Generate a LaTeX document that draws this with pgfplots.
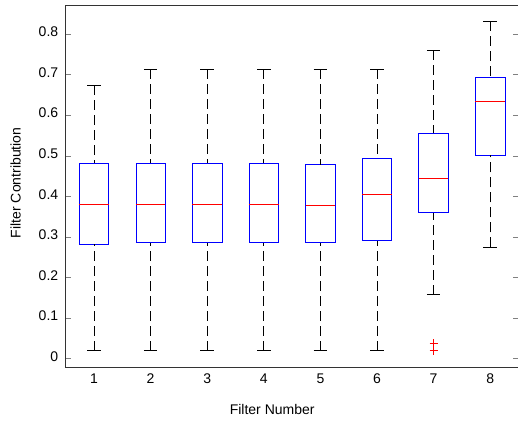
\documentclass[border=0pt]{standalone}
\usepackage{fontspec}
\setmainfont{Liberation Sans}
\usepackage{pgfplots}
\pgfplotsset{compat=1.18}
\pgfplotsset{
  every tick label/.append style={font=\fontsize{14pt}{16pt}\selectfont},
  every axis label/.append style={font=\fontsize{14pt}{16pt}\selectfont},
}
\begin{document}
\begin{tikzpicture}
\begin{axis}[
  scale only axis, width=452.6pt, height=362.7pt,
  at={(0pt,0pt)}, anchor=south west,
  xmin=0.5, xmax=8.5, ymin=-0.0232, ymax=0.8713,
  xtick={1,2,3,4,5,6,7,8},
  ytick={0,0.1,0.2,0.3,0.4,0.5,0.6,0.7,0.8},
  yticklabels={0,0.1,0.2,0.3,0.4,0.5,0.6,0.7,0.8},
  /pgf/number format/assume math mode=true,
  tick align=inside,
  ytick pos=both,
  major x tick style={draw=none},
  major tick length=5pt,
  axis line style={black!80, line width=0.7pt},
  xlabel={Filter Number},
  ylabel={Filter Contribution},
  xlabel style={at={(axis description cs:0.456,0)}, yshift=-42pt, anchor=center},
  ylabel style={at={(axis description cs:0,0.51)}, yshift=50pt, anchor=center},
  yticklabel style={xshift=-4pt, yshift=2pt},
  xticklabel style={yshift=-2pt},
  unbounded coords=jump,
]
% boxes (lower quartile / upper quartile), box half-width 0.26
\addplot[blue, line width=0.8pt] table[row sep=\\] {
x y\\
0.74 0.282\\ 1.26 0.282\\ 1.26 0.481\\ 0.74 0.481\\ 0.74 0.282\\ nan nan\\
1.74 0.285\\ 2.26 0.285\\ 2.26 0.481\\ 1.74 0.481\\ 1.74 0.285\\ nan nan\\
2.74 0.285\\ 3.26 0.285\\ 3.26 0.481\\ 2.74 0.481\\ 2.74 0.285\\ nan nan\\
3.74 0.285\\ 4.26 0.285\\ 4.26 0.481\\ 3.74 0.481\\ 3.74 0.285\\ nan nan\\
4.74 0.285\\ 5.26 0.285\\ 5.26 0.478\\ 4.74 0.478\\ 4.74 0.285\\ nan nan\\
5.74 0.290\\ 6.26 0.290\\ 6.26 0.493\\ 5.74 0.493\\ 5.74 0.290\\ nan nan\\
6.74 0.359\\ 7.26 0.359\\ 7.26 0.555\\ 6.74 0.555\\ 6.74 0.359\\ nan nan\\
7.74 0.501\\ 8.26 0.501\\ 8.26 0.693\\ 7.74 0.693\\ 7.74 0.501\\
};
% medians
\addplot[red, line width=0.8pt] table[row sep=\\] {
x y\\
0.74 0.380\\ 1.26 0.380\\ nan nan\\
1.74 0.380\\ 2.26 0.380\\ nan nan\\
2.74 0.380\\ 3.26 0.380\\ nan nan\\
3.74 0.380\\ 4.26 0.380\\ nan nan\\
4.74 0.378\\ 5.26 0.378\\ nan nan\\
5.74 0.405\\ 6.26 0.405\\ nan nan\\
6.74 0.443\\ 7.26 0.443\\ nan nan\\
7.74 0.634\\ 8.26 0.634\\
};
% whiskers (dashed): from whisker end to quartile
\addplot[black, line width=0.8pt, dash pattern=on 10pt off 5pt] table[row sep=\\] {
x y\\
1 0.673\\ 1 0.481\\ nan nan\\ 1 0.019\\ 1 0.282\\ nan nan\\
2 0.713\\ 2 0.481\\ nan nan\\ 2 0.019\\ 2 0.285\\ nan nan\\
3 0.713\\ 3 0.481\\ nan nan\\ 3 0.019\\ 3 0.285\\ nan nan\\
4 0.713\\ 4 0.481\\ nan nan\\ 4 0.019\\ 4 0.285\\ nan nan\\
5 0.713\\ 5 0.478\\ nan nan\\ 5 0.019\\ 5 0.285\\ nan nan\\
6 0.713\\ 6 0.493\\ nan nan\\ 6 0.019\\ 6 0.290\\ nan nan\\
7 0.760\\ 7 0.555\\ nan nan\\ 7 0.157\\ 7 0.359\\ nan nan\\
8 0.831\\ 8 0.693\\ nan nan\\ 8 0.274\\ 8 0.501\\
};
% whisker caps
\addplot[black, line width=0.8pt] table[row sep=\\] {
x y\\
0.88 0.673\\ 1.12 0.673\\ nan nan\\ 0.88 0.019\\ 1.12 0.019\\ nan nan\\
1.88 0.713\\ 2.12 0.713\\ nan nan\\ 1.88 0.019\\ 2.12 0.019\\ nan nan\\
2.88 0.713\\ 3.12 0.713\\ nan nan\\ 2.88 0.019\\ 3.12 0.019\\ nan nan\\
3.88 0.713\\ 4.12 0.713\\ nan nan\\ 3.88 0.019\\ 4.12 0.019\\ nan nan\\
4.88 0.713\\ 5.12 0.713\\ nan nan\\ 4.88 0.019\\ 5.12 0.019\\ nan nan\\
5.88 0.713\\ 6.12 0.713\\ nan nan\\ 5.88 0.019\\ 6.12 0.019\\ nan nan\\
6.88 0.760\\ 7.12 0.760\\ nan nan\\ 6.88 0.157\\ 7.12 0.157\\ nan nan\\
7.88 0.831\\ 8.12 0.831\\ nan nan\\ 7.88 0.274\\ 8.12 0.274\\
};
% outliers
\addplot[only marks, draw=red, mark=+, mark size=4pt, mark options={draw=red, solid, line width=0.7pt}] coordinates {(7,0.037) (7,0.019)};
\end{axis}
\pgfresetboundingbox
\useasboundingbox (-65.7pt,-56.3pt) rectangle (452.1pt,367.7pt);
\end{tikzpicture}
\end{document}
